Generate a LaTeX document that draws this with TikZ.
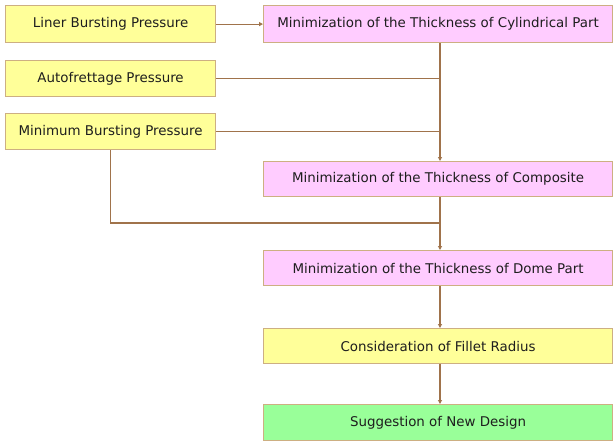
\documentclass[tikz,border=0pt]{standalone}
\usepackage{fontspec}
\setmainfont{DejaVu Sans}
\usetikzlibrary{arrows.meta}
\definecolor{yfill}{RGB}{255,255,153}
\definecolor{pfill}{RGB}{255,204,255}
\definecolor{gfill}{RGB}{153,255,153}
\definecolor{bordc}{RGB}{205,175,130}
\definecolor{linec}{RGB}{160,115,75}
\definecolor{txtc}{RGB}{30,30,30}
\begin{document}
\begin{tikzpicture}[x=1pt,y=-1pt,
  boxstyle/.style={draw=bordc,line width=1.2pt,minimum height=36pt,inner sep=0pt,font=\fontsize{13.4}{15}\selectfont,text=txtc,anchor=north west},
  leftbox/.style={boxstyle,fill=yfill,minimum width=210pt},
  rightbox/.style={boxstyle,minimum width=349pt},
  conn/.style={draw=linec,line width=1.2pt},
  arr/.style={conn,-{Triangle[length=4pt,width=4pt]}}]
\useasboundingbox (0,0) rectangle (614,442);
\fill[white] (0,0) rectangle (614,442);
\node[leftbox,minimum height=37pt] (L1) at (5,5) {Liner Bursting Pressure};
\node[leftbox] (L2) at (5,60) {Autofrettage Pressure};
\node[leftbox] (L3) at (5,113) {Minimum Bursting Pressure};
\node[rightbox,fill=pfill,minimum height=37pt] (R1) at (263,5) {Minimization of the Thickness of Cylindrical Part};
\node[rightbox,fill=pfill,minimum height=35pt] (R2) at (263,161) {Minimization of the Thickness of Composite};
\node[rightbox,fill=pfill,minimum height=35pt] (R3) at (263,250) {Minimization of the Thickness of Dome Part};
\node[rightbox,fill=yfill,minimum height=35pt] (R4) at (263,328) {Consideration of Fillet Radius};
\node[rightbox,fill=gfill,minimum height=36pt] (R5) at (263,404) {Suggestion of New Design};
\coordinate (vx) at (440,0);
\coordinate (j) at (440,223);
\draw[arr] (L1.east) -- (R1.west);
\draw[arr] (vx |- R1.south) -- (vx |- R2.north);
\draw[conn] (L2.east) -- (L2.east -| vx);
\draw[conn] (L3.east) -- (L3.east -| vx);
\draw[conn] (L3.south) |- (j);
\draw[arr] (vx |- R2.south) -- (vx |- R3.north);
\draw[arr] (vx |- R3.south) -- (vx |- R4.north);
\draw[arr] (vx |- R4.south) -- (vx |- R5.north);
\end{tikzpicture}
\end{document}
